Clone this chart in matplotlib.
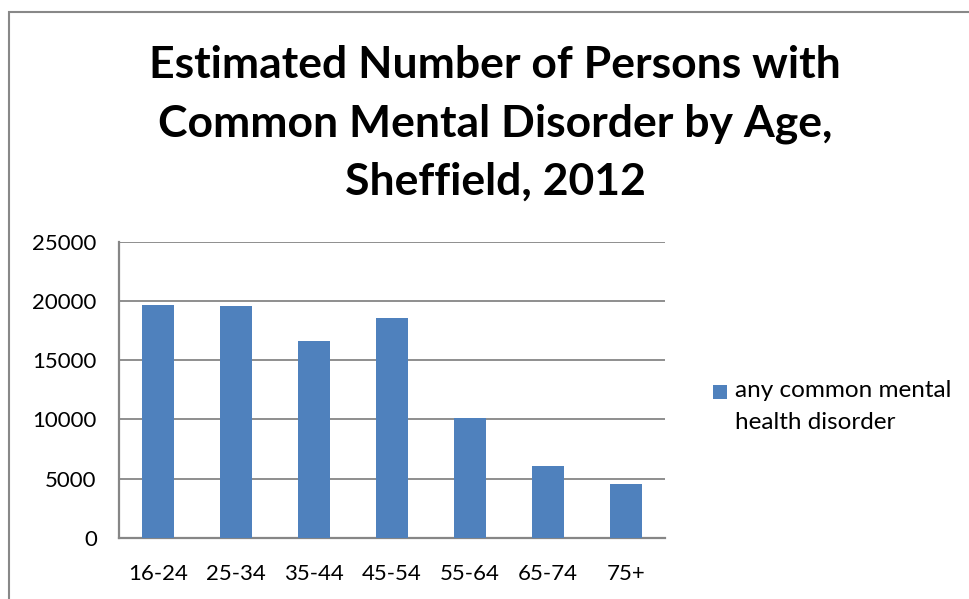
import numpy as np
import matplotlib
matplotlib.use("Agg")
import matplotlib.pyplot as plt
from matplotlib.patches import Rectangle

plt.rcParams['font.family'] = ['Lato', 'DejaVu Sans']

age_groups = ['16-24', '25-34', '35-44', '45-54', '55-64', '65-74', '75+']
persons = [19700, 19550, 16600, 18550, 10100, 6070, 4550]
series_name = 'any common mental\nhealth disorder'
y_ticks = [0, 5000, 10000, 15000, 20000, 25000]

bar_color = '#4f81bd'
grid_color = '#868686'

fig = plt.figure(figsize=(9.7, 5.99), dpi=100)

# outer chart frame (cropped at right and bottom)
fig.patches.append(Rectangle((9 / 970, -0.2), 1.2, 1.2 - 12 / 599,
                             transform=fig.transFigure, fill=False,
                             edgecolor='#888888', linewidth=1.5))

ax = fig.add_axes([119 / 970, 1 - 538 / 599, 546 / 970, 296.3 / 599])

x = np.arange(len(age_groups))
ax.bar(x, persons, width=0.41, color=bar_color, zorder=3)

ax.set_xlim(-0.5, len(age_groups) - 0.5)
ax.set_ylim(0, 25000)
ax.set_yticks(y_ticks)
ax.set_yticklabels([str(v) for v in y_ticks])
ax.set_xticks(x)
ax.set_xticklabels(age_groups)
ax.tick_params(axis='both', length=0, labelsize=16, colors='black')
ax.tick_params(axis='x', pad=19)
ax.tick_params(axis='y', pad=16)

ax.yaxis.grid(True, color=grid_color, linewidth=1.3, zorder=0)
ax.set_axisbelow(True)
for side in ['top', 'right']:
    ax.spines[side].set_visible(False)
for side in ['left', 'bottom']:
    ax.spines[side].set_color(grid_color)
    ax.spines[side].set_linewidth(1.6)

title_lines = ['Estimated Number of Persons with',
               'Common Mental Disorder by Age,',
               'Sheffield, 2012']
for line, ypix in zip(title_lines, [65, 124, 182]):
    fig.text(495 / 970, 1 - ypix / 599, line, ha='center', va='center',
             fontsize=32, fontweight='bold')

# legend: square aligned with the first text line
fig.patches.append(Rectangle((713 / 970, 1 - 399 / 599), 14 / 970, 14 / 599,
                             transform=fig.transFigure, facecolor=bar_color,
                             edgecolor='none'))
fig.text(735 / 970, 1 - 380 / 599, series_name, ha='left', va='top',
         fontsize=17.5, linespacing=1.65)

fig.savefig('out.png', dpi=100)
